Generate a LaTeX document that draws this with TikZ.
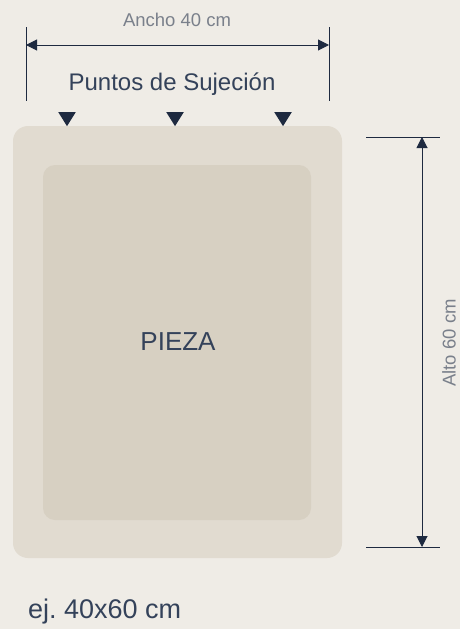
\documentclass[tikz,border=0pt]{standalone}
\usepackage{fontspec}
\setmainfont{Liberation Sans}
\usepackage{tikz}
\usetikzlibrary{arrows.meta}
\usetikzlibrary{positioning}
\usetikzlibrary{shapes.geometric}
\definecolor{bgc}{HTML}{EFECE6}
\definecolor{outerc}{HTML}{E1DBD0}
\definecolor{innerc}{HTML}{D7D0C2}
\definecolor{navy}{HTML}{1E2A40}
\definecolor{labgray}{HTML}{7A808B}
\definecolor{textc}{HTML}{34425A}
\tikzstyle{every node}+=[inner sep=0pt]
\tikzstyle{dimline} = [draw=navy, line width=1pt, {Triangle[length=11pt,width=11pt]}-{Triangle[length=11pt,width=11pt]}]
\tikzstyle{extline} = [draw=navy, line width=1pt]
\tikzstyle{dimlabel} = [text=labgray, font=\fontsize{18.5}{22}\selectfont]
\tikzstyle{pin} = [fill=navy, isosceles triangle, isosceles triangle apex angle=64, shape border rotate=-90, minimum height=14pt, minimum width=17pt]

\begin{document}
\begin{tikzpicture}[x=1pt, y=-1pt]
          \useasboundingbox[fill=bgc] (0,0) rectangle (460,629);
          % Piece
          \fill[outerc, rounded corners=15pt] (13,126) rectangle (342,558);
          \fill[innerc, rounded corners=12pt] (43,165) rectangle (311,520);
          \node [text=textc, font=\fontsize{26}{30}\selectfont] (pieza) at (178,342) {PIEZA};
          % Place nodes
          \coordinate (wl) at (26,27);
          \coordinate (wlb) at (26,101);
          \coordinate (wr) at (329,27);
          \coordinate (wrb) at (329,101);
          \coordinate (wa) at (26,45);
          \coordinate (wb) at (329,45);
          \node [dimlabel] (ancho) at (177,20) {Ancho 40 cm};
          \node [text=textc, font=\fontsize{24}{28}\selectfont] (puntos) at (172,84) {Puntos de Sujeción};
          \node [pin] (p1) at (67,117) {};
          \node [pin] (p2) at (175,117) {};
          \node [pin] (p3) at (283,117) {};
          \coordinate (ht) at (366,137);
          \coordinate (htr) at (440,137);
          \coordinate (hb) at (366,547);
          \coordinate (hbr) at (440,547);
          \coordinate (ha) at (422,137);
          \coordinate (hz) at (422,547);
          \node [dimlabel, rotate=90] (alto) at (449,343) {Alto 60 cm};
          \node [text=textc, font=\fontsize{27}{31}\selectfont, anchor=west] (ej) at (28,612) {ej.\ 40x60 cm};
          % Draw edges
          \path [extline] (wl) -- (wlb);
          \path [extline] (wr) -- (wrb);
          \path [dimline] (wa) -- (wb);
          \path [extline] (ht) -- (htr);
          \path [extline] (hb) -- (hbr);
          \path [dimline] (ha) -- (hz);
        \end{tikzpicture}
\end{document}
